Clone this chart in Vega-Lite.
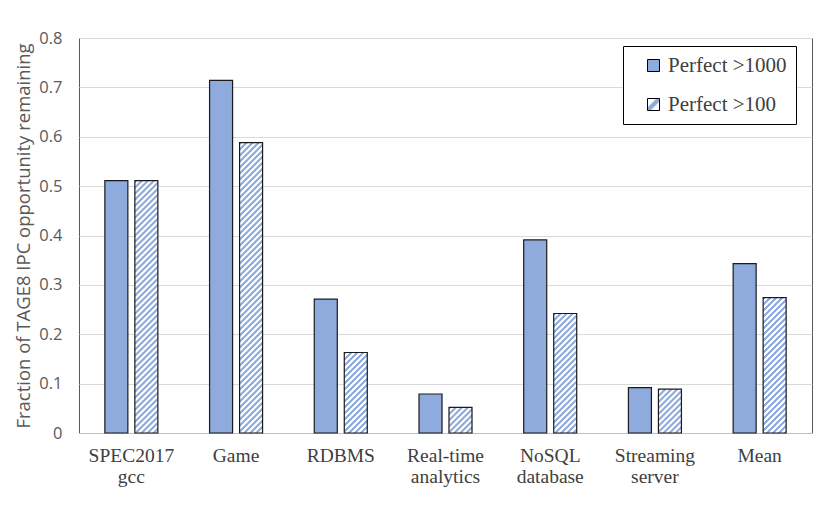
{
  "$schema": "https://vega.github.io/schema/vega-lite/v6.json",
  "width": 733,
  "height": 395,
  "autosize": {"type": "none"},
  "padding": {"left": 79, "top": 38, "right": 18, "bottom": 85},
  "background": "white",
  "params": [
    {"name": "hatchStops", "value": [
      {"offset":0,"color":"#8faadc"},{"offset":0.0035,"color":"#8faadc"},{"offset":0.005,"color":"#fff"},{"offset":0.0085,"color":"#fff"},
      {"offset":0.01,"color":"#8faadc"},{"offset":0.0135,"color":"#8faadc"},{"offset":0.015,"color":"#fff"},{"offset":0.0185,"color":"#fff"},
      {"offset":0.02,"color":"#8faadc"},{"offset":0.0235,"color":"#8faadc"},{"offset":0.025,"color":"#fff"},{"offset":0.0285,"color":"#fff"},
      {"offset":0.03,"color":"#8faadc"},{"offset":0.0335,"color":"#8faadc"},{"offset":0.035,"color":"#fff"},{"offset":0.0385,"color":"#fff"},
      {"offset":0.04,"color":"#8faadc"},{"offset":0.0435,"color":"#8faadc"},{"offset":0.045,"color":"#fff"},{"offset":0.0485,"color":"#fff"},
      {"offset":0.05,"color":"#8faadc"},{"offset":0.0535,"color":"#8faadc"},{"offset":0.055,"color":"#fff"},{"offset":0.0585,"color":"#fff"},
      {"offset":0.06,"color":"#8faadc"},{"offset":0.0635,"color":"#8faadc"},{"offset":0.065,"color":"#fff"},{"offset":0.0685,"color":"#fff"},
      {"offset":0.07,"color":"#8faadc"},{"offset":0.0735,"color":"#8faadc"},{"offset":0.075,"color":"#fff"},{"offset":0.0785,"color":"#fff"},
      {"offset":0.08,"color":"#8faadc"},{"offset":0.0835,"color":"#8faadc"},{"offset":0.085,"color":"#fff"},{"offset":0.0885,"color":"#fff"},
      {"offset":0.09,"color":"#8faadc"},{"offset":0.0935,"color":"#8faadc"},{"offset":0.095,"color":"#fff"},{"offset":0.0985,"color":"#fff"},
      {"offset":0.1,"color":"#8faadc"},{"offset":0.1035,"color":"#8faadc"},{"offset":0.105,"color":"#fff"},{"offset":0.1085,"color":"#fff"},
      {"offset":0.11,"color":"#8faadc"},{"offset":0.1135,"color":"#8faadc"},{"offset":0.115,"color":"#fff"},{"offset":0.1185,"color":"#fff"},
      {"offset":0.12,"color":"#8faadc"},{"offset":0.1235,"color":"#8faadc"},{"offset":0.125,"color":"#fff"},{"offset":0.1285,"color":"#fff"},
      {"offset":0.13,"color":"#8faadc"},{"offset":0.1335,"color":"#8faadc"},{"offset":0.135,"color":"#fff"},{"offset":0.1385,"color":"#fff"},
      {"offset":0.14,"color":"#8faadc"},{"offset":0.1435,"color":"#8faadc"},{"offset":0.145,"color":"#fff"},{"offset":0.1485,"color":"#fff"},
      {"offset":0.15,"color":"#8faadc"},{"offset":0.1535,"color":"#8faadc"},{"offset":0.155,"color":"#fff"},{"offset":0.1585,"color":"#fff"},
      {"offset":0.16,"color":"#8faadc"},{"offset":0.1635,"color":"#8faadc"},{"offset":0.165,"color":"#fff"},{"offset":0.1685,"color":"#fff"},
      {"offset":0.17,"color":"#8faadc"},{"offset":0.1735,"color":"#8faadc"},{"offset":0.175,"color":"#fff"},{"offset":0.1785,"color":"#fff"},
      {"offset":0.18,"color":"#8faadc"},{"offset":0.1835,"color":"#8faadc"},{"offset":0.185,"color":"#fff"},{"offset":0.1885,"color":"#fff"},
      {"offset":0.19,"color":"#8faadc"},{"offset":0.1935,"color":"#8faadc"},{"offset":0.195,"color":"#fff"},{"offset":0.1985,"color":"#fff"},
      {"offset":0.2,"color":"#8faadc"},{"offset":0.2035,"color":"#8faadc"},{"offset":0.205,"color":"#fff"},{"offset":0.2085,"color":"#fff"},
      {"offset":0.21,"color":"#8faadc"},{"offset":0.2135,"color":"#8faadc"},{"offset":0.215,"color":"#fff"},{"offset":0.2185,"color":"#fff"},
      {"offset":0.22,"color":"#8faadc"},{"offset":0.2235,"color":"#8faadc"},{"offset":0.225,"color":"#fff"},{"offset":0.2285,"color":"#fff"},
      {"offset":0.23,"color":"#8faadc"},{"offset":0.2335,"color":"#8faadc"},{"offset":0.235,"color":"#fff"},{"offset":0.2385,"color":"#fff"},
      {"offset":0.24,"color":"#8faadc"},{"offset":0.2435,"color":"#8faadc"},{"offset":0.245,"color":"#fff"},{"offset":0.2485,"color":"#fff"},
      {"offset":0.25,"color":"#8faadc"},{"offset":0.2535,"color":"#8faadc"},{"offset":0.255,"color":"#fff"},{"offset":0.2585,"color":"#fff"},
      {"offset":0.26,"color":"#8faadc"},{"offset":0.2635,"color":"#8faadc"},{"offset":0.265,"color":"#fff"},{"offset":0.2685,"color":"#fff"},
      {"offset":0.27,"color":"#8faadc"},{"offset":0.2735,"color":"#8faadc"},{"offset":0.275,"color":"#fff"},{"offset":0.2785,"color":"#fff"},
      {"offset":0.28,"color":"#8faadc"},{"offset":0.2835,"color":"#8faadc"},{"offset":0.285,"color":"#fff"},{"offset":0.2885,"color":"#fff"},
      {"offset":0.29,"color":"#8faadc"},{"offset":0.2935,"color":"#8faadc"},{"offset":0.295,"color":"#fff"},{"offset":0.2985,"color":"#fff"},
      {"offset":0.3,"color":"#8faadc"},{"offset":0.3035,"color":"#8faadc"},{"offset":0.305,"color":"#fff"},{"offset":0.3085,"color":"#fff"},
      {"offset":0.31,"color":"#8faadc"},{"offset":0.3135,"color":"#8faadc"},{"offset":0.315,"color":"#fff"},{"offset":0.3185,"color":"#fff"},
      {"offset":0.32,"color":"#8faadc"},{"offset":0.3235,"color":"#8faadc"},{"offset":0.325,"color":"#fff"},{"offset":0.3285,"color":"#fff"},
      {"offset":0.33,"color":"#8faadc"},{"offset":0.3335,"color":"#8faadc"},{"offset":0.335,"color":"#fff"},{"offset":0.3385,"color":"#fff"},
      {"offset":0.34,"color":"#8faadc"},{"offset":0.3435,"color":"#8faadc"},{"offset":0.345,"color":"#fff"},{"offset":0.3485,"color":"#fff"},
      {"offset":0.35,"color":"#8faadc"},{"offset":0.3535,"color":"#8faadc"},{"offset":0.355,"color":"#fff"},{"offset":0.3585,"color":"#fff"},
      {"offset":0.36,"color":"#8faadc"},{"offset":0.3635,"color":"#8faadc"},{"offset":0.365,"color":"#fff"},{"offset":0.3685,"color":"#fff"},
      {"offset":0.37,"color":"#8faadc"},{"offset":0.3735,"color":"#8faadc"},{"offset":0.375,"color":"#fff"},{"offset":0.3785,"color":"#fff"},
      {"offset":0.38,"color":"#8faadc"},{"offset":0.3835,"color":"#8faadc"},{"offset":0.385,"color":"#fff"},{"offset":0.3885,"color":"#fff"},
      {"offset":0.39,"color":"#8faadc"},{"offset":0.3935,"color":"#8faadc"},{"offset":0.395,"color":"#fff"},{"offset":0.3985,"color":"#fff"},
      {"offset":0.4,"color":"#8faadc"},{"offset":0.4035,"color":"#8faadc"},{"offset":0.405,"color":"#fff"},{"offset":0.4085,"color":"#fff"},
      {"offset":0.41,"color":"#8faadc"},{"offset":0.4135,"color":"#8faadc"},{"offset":0.415,"color":"#fff"},{"offset":0.4185,"color":"#fff"},
      {"offset":0.42,"color":"#8faadc"},{"offset":0.4235,"color":"#8faadc"},{"offset":0.425,"color":"#fff"},{"offset":0.4285,"color":"#fff"},
      {"offset":0.43,"color":"#8faadc"},{"offset":0.4335,"color":"#8faadc"},{"offset":0.435,"color":"#fff"},{"offset":0.4385,"color":"#fff"},
      {"offset":0.44,"color":"#8faadc"},{"offset":0.4435,"color":"#8faadc"},{"offset":0.445,"color":"#fff"},{"offset":0.4485,"color":"#fff"},
      {"offset":0.45,"color":"#8faadc"},{"offset":0.4535,"color":"#8faadc"},{"offset":0.455,"color":"#fff"},{"offset":0.4585,"color":"#fff"},
      {"offset":0.46,"color":"#8faadc"},{"offset":0.4635,"color":"#8faadc"},{"offset":0.465,"color":"#fff"},{"offset":0.4685,"color":"#fff"},
      {"offset":0.47,"color":"#8faadc"},{"offset":0.4735,"color":"#8faadc"},{"offset":0.475,"color":"#fff"},{"offset":0.4785,"color":"#fff"},
      {"offset":0.48,"color":"#8faadc"},{"offset":0.4835,"color":"#8faadc"},{"offset":0.485,"color":"#fff"},{"offset":0.4885,"color":"#fff"},
      {"offset":0.49,"color":"#8faadc"},{"offset":0.4935,"color":"#8faadc"},{"offset":0.495,"color":"#fff"},{"offset":0.4985,"color":"#fff"},
      {"offset":0.5,"color":"#8faadc"},{"offset":0.5035,"color":"#8faadc"},{"offset":0.505,"color":"#fff"},{"offset":0.5085,"color":"#fff"},
      {"offset":0.51,"color":"#8faadc"},{"offset":0.5135,"color":"#8faadc"},{"offset":0.515,"color":"#fff"},{"offset":0.5185,"color":"#fff"},
      {"offset":0.52,"color":"#8faadc"},{"offset":0.5235,"color":"#8faadc"},{"offset":0.525,"color":"#fff"},{"offset":0.5285,"color":"#fff"},
      {"offset":0.53,"color":"#8faadc"},{"offset":0.5335,"color":"#8faadc"},{"offset":0.535,"color":"#fff"},{"offset":0.5385,"color":"#fff"},
      {"offset":0.54,"color":"#8faadc"},{"offset":0.5435,"color":"#8faadc"},{"offset":0.545,"color":"#fff"},{"offset":0.5485,"color":"#fff"},
      {"offset":0.55,"color":"#8faadc"},{"offset":0.5535,"color":"#8faadc"},{"offset":0.555,"color":"#fff"},{"offset":0.5585,"color":"#fff"},
      {"offset":0.56,"color":"#8faadc"},{"offset":0.5635,"color":"#8faadc"},{"offset":0.565,"color":"#fff"},{"offset":0.5685,"color":"#fff"},
      {"offset":0.57,"color":"#8faadc"},{"offset":0.5735,"color":"#8faadc"},{"offset":0.575,"color":"#fff"},{"offset":0.5785,"color":"#fff"},
      {"offset":0.58,"color":"#8faadc"},{"offset":0.5835,"color":"#8faadc"},{"offset":0.585,"color":"#fff"},{"offset":0.5885,"color":"#fff"},
      {"offset":0.59,"color":"#8faadc"},{"offset":0.5935,"color":"#8faadc"},{"offset":0.595,"color":"#fff"},{"offset":0.5985,"color":"#fff"},
      {"offset":0.6,"color":"#8faadc"},{"offset":0.6035,"color":"#8faadc"},{"offset":0.605,"color":"#fff"},{"offset":0.6085,"color":"#fff"},
      {"offset":0.61,"color":"#8faadc"},{"offset":0.6135,"color":"#8faadc"},{"offset":0.615,"color":"#fff"},{"offset":0.6185,"color":"#fff"},
      {"offset":0.62,"color":"#8faadc"},{"offset":0.6235,"color":"#8faadc"},{"offset":0.625,"color":"#fff"},{"offset":0.6285,"color":"#fff"},
      {"offset":0.63,"color":"#8faadc"},{"offset":0.6335,"color":"#8faadc"},{"offset":0.635,"color":"#fff"},{"offset":0.6385,"color":"#fff"},
      {"offset":0.64,"color":"#8faadc"},{"offset":0.6435,"color":"#8faadc"},{"offset":0.645,"color":"#fff"},{"offset":0.6485,"color":"#fff"},
      {"offset":0.65,"color":"#8faadc"},{"offset":0.6535,"color":"#8faadc"},{"offset":0.655,"color":"#fff"},{"offset":0.6585,"color":"#fff"},
      {"offset":0.66,"color":"#8faadc"},{"offset":0.6635,"color":"#8faadc"},{"offset":0.665,"color":"#fff"},{"offset":0.6685,"color":"#fff"},
      {"offset":0.67,"color":"#8faadc"},{"offset":0.6735,"color":"#8faadc"},{"offset":0.675,"color":"#fff"},{"offset":0.6785,"color":"#fff"},
      {"offset":0.68,"color":"#8faadc"},{"offset":0.6835,"color":"#8faadc"},{"offset":0.685,"color":"#fff"},{"offset":0.6885,"color":"#fff"},
      {"offset":0.69,"color":"#8faadc"},{"offset":0.6935,"color":"#8faadc"},{"offset":0.695,"color":"#fff"},{"offset":0.6985,"color":"#fff"},
      {"offset":0.7,"color":"#8faadc"},{"offset":0.7035,"color":"#8faadc"},{"offset":0.705,"color":"#fff"},{"offset":0.7085,"color":"#fff"},
      {"offset":0.71,"color":"#8faadc"},{"offset":0.7135,"color":"#8faadc"},{"offset":0.715,"color":"#fff"},{"offset":0.7185,"color":"#fff"},
      {"offset":0.72,"color":"#8faadc"},{"offset":0.7235,"color":"#8faadc"},{"offset":0.725,"color":"#fff"},{"offset":0.7285,"color":"#fff"},
      {"offset":0.73,"color":"#8faadc"},{"offset":0.7335,"color":"#8faadc"},{"offset":0.735,"color":"#fff"},{"offset":0.7385,"color":"#fff"},
      {"offset":0.74,"color":"#8faadc"},{"offset":0.7435,"color":"#8faadc"},{"offset":0.745,"color":"#fff"},{"offset":0.7485,"color":"#fff"},
      {"offset":0.75,"color":"#8faadc"},{"offset":0.7535,"color":"#8faadc"},{"offset":0.755,"color":"#fff"},{"offset":0.7585,"color":"#fff"},
      {"offset":0.76,"color":"#8faadc"},{"offset":0.7635,"color":"#8faadc"},{"offset":0.765,"color":"#fff"},{"offset":0.7685,"color":"#fff"},
      {"offset":0.77,"color":"#8faadc"},{"offset":0.7735,"color":"#8faadc"},{"offset":0.775,"color":"#fff"},{"offset":0.7785,"color":"#fff"},
      {"offset":0.78,"color":"#8faadc"},{"offset":0.7835,"color":"#8faadc"},{"offset":0.785,"color":"#fff"},{"offset":0.7885,"color":"#fff"},
      {"offset":0.79,"color":"#8faadc"},{"offset":0.7935,"color":"#8faadc"},{"offset":0.795,"color":"#fff"},{"offset":0.7985,"color":"#fff"},
      {"offset":0.8,"color":"#8faadc"},{"offset":0.8035,"color":"#8faadc"},{"offset":0.805,"color":"#fff"},{"offset":0.8085,"color":"#fff"},
      {"offset":0.81,"color":"#8faadc"},{"offset":0.8135,"color":"#8faadc"},{"offset":0.815,"color":"#fff"},{"offset":0.8185,"color":"#fff"},
      {"offset":0.82,"color":"#8faadc"},{"offset":0.8235,"color":"#8faadc"},{"offset":0.825,"color":"#fff"},{"offset":0.8285,"color":"#fff"},
      {"offset":0.83,"color":"#8faadc"},{"offset":0.8335,"color":"#8faadc"},{"offset":0.835,"color":"#fff"},{"offset":0.8385,"color":"#fff"},
      {"offset":0.84,"color":"#8faadc"},{"offset":0.8435,"color":"#8faadc"},{"offset":0.845,"color":"#fff"},{"offset":0.8485,"color":"#fff"},
      {"offset":0.85,"color":"#8faadc"},{"offset":0.8535,"color":"#8faadc"},{"offset":0.855,"color":"#fff"},{"offset":0.8585,"color":"#fff"},
      {"offset":0.86,"color":"#8faadc"},{"offset":0.8635,"color":"#8faadc"},{"offset":0.865,"color":"#fff"},{"offset":0.8685,"color":"#fff"},
      {"offset":0.87,"color":"#8faadc"},{"offset":0.8735,"color":"#8faadc"},{"offset":0.875,"color":"#fff"},{"offset":0.8785,"color":"#fff"},
      {"offset":0.88,"color":"#8faadc"},{"offset":0.8835,"color":"#8faadc"},{"offset":0.885,"color":"#fff"},{"offset":0.8885,"color":"#fff"},
      {"offset":0.89,"color":"#8faadc"},{"offset":0.8935,"color":"#8faadc"},{"offset":0.895,"color":"#fff"},{"offset":0.8985,"color":"#fff"},
      {"offset":0.9,"color":"#8faadc"},{"offset":0.9035,"color":"#8faadc"},{"offset":0.905,"color":"#fff"},{"offset":0.9085,"color":"#fff"},
      {"offset":0.91,"color":"#8faadc"},{"offset":0.9135,"color":"#8faadc"},{"offset":0.915,"color":"#fff"},{"offset":0.9185,"color":"#fff"},
      {"offset":0.92,"color":"#8faadc"},{"offset":0.9235,"color":"#8faadc"},{"offset":0.925,"color":"#fff"},{"offset":0.9285,"color":"#fff"},
      {"offset":0.93,"color":"#8faadc"},{"offset":0.9335,"color":"#8faadc"},{"offset":0.935,"color":"#fff"},{"offset":0.9385,"color":"#fff"},
      {"offset":0.94,"color":"#8faadc"},{"offset":0.9435,"color":"#8faadc"},{"offset":0.945,"color":"#fff"},{"offset":0.9485,"color":"#fff"},
      {"offset":0.95,"color":"#8faadc"},{"offset":0.9535,"color":"#8faadc"},{"offset":0.955,"color":"#fff"},{"offset":0.9585,"color":"#fff"},
      {"offset":0.96,"color":"#8faadc"},{"offset":0.9635,"color":"#8faadc"},{"offset":0.965,"color":"#fff"},{"offset":0.9685,"color":"#fff"},
      {"offset":0.97,"color":"#8faadc"},{"offset":0.9735,"color":"#8faadc"},{"offset":0.975,"color":"#fff"},{"offset":0.9785,"color":"#fff"},
      {"offset":0.98,"color":"#8faadc"},{"offset":0.9835,"color":"#8faadc"},{"offset":0.985,"color":"#fff"},{"offset":0.9885,"color":"#fff"},
      {"offset":0.99,"color":"#8faadc"},{"offset":0.9935,"color":"#8faadc"},{"offset":0.995,"color":"#fff"},{"offset":0.9985,"color":"#fff"},
      {"offset":1,"color":"#8faadc"}
    ]}
  ],
  "data": {
    "values": [
      {"c": "SPEC2017 gcc", "s": "Perfect >1000", "v": 0.511},
      {"c": "SPEC2017 gcc", "s": "Perfect >100", "v": 0.511},
      {"c": "Game", "s": "Perfect >1000", "v": 0.714},
      {"c": "Game", "s": "Perfect >100", "v": 0.588},
      {"c": "RDBMS", "s": "Perfect >1000", "v": 0.271},
      {"c": "RDBMS", "s": "Perfect >100", "v": 0.163},
      {"c": "Real-time analytics", "s": "Perfect >1000", "v": 0.079},
      {"c": "Real-time analytics", "s": "Perfect >100", "v": 0.052},
      {"c": "NoSQL database", "s": "Perfect >1000", "v": 0.391},
      {"c": "NoSQL database", "s": "Perfect >100", "v": 0.242},
      {"c": "Streaming server", "s": "Perfect >1000", "v": 0.092},
      {"c": "Streaming server", "s": "Perfect >100", "v": 0.089},
      {"c": "Mean", "s": "Perfect >1000", "v": 0.343},
      {"c": "Mean", "s": "Perfect >100", "v": 0.274}
    ]
  },
  "mark": {"type": "bar", "stroke": "#1a1a1a", "strokeWidth": 1.2},
  "encoding": {
    "x": {
      "field": "c",
      "type": "nominal",
      "sort": null,
      "scale": {"paddingInner": 0, "paddingOuter": 0},
      "axis": {
        "title": null,
        "labelAngle": 0,
        "labelExpr": "split(datum.label, ' ')",
        "labelFont": "Liberation Serif",
        "labelFontSize": 19.5,
        "labelColor": "#404040",
        "labelLineHeight": 21,
        "labelPadding": 13,
        "labelBaseline": "top",
        "ticks": false,
        "grid": false,
        "domainColor": "#bfbfbf",
        "domainWidth": 1
      }
    },
    "xOffset": {
      "field": "s",
      "type": "nominal",
      "sort": ["Perfect >1000", "Perfect >100"],
      "scale": {"paddingInner": 0.233, "paddingOuter": 0.862}
    },
    "y": {
      "field": "v",
      "type": "quantitative",
      "stack": null,
      "scale": {"domain": [0, 0.8], "nice": false},
      "axis": {
        "title": "Fraction of TAGE8 IPC opportunity remaining",
        "titleFont": "Open Sans",
        "titleFontSize": 18.5,
        "titleFontWeight": "normal",
        "titleColor": "#595959",
        "titlePadding": 5,
        "values": [0, 0.1, 0.2, 0.3, 0.4, 0.5, 0.6, 0.7, 0.8],
        "format": ".1~f",
        "labelFont": "Open Sans",
        "labelFontSize": 16.5,
        "labelColor": "#595959",
        "labelPadding": 17,
        "ticks": false,
        "domain": false,
        "grid": true,
        "gridColor": "#d9d9d9",
        "gridWidth": 1
      }
    },
    "fill": {
      "field": "s",
      "type": "nominal",
      "scale": {
        "domain": ["Perfect >1000", "Perfect >100"],
        "range": [
          "#8faadc",
          {"expr": "{gradient: 'linear', x1: 0, y1: 0, x2: 1, y2: 1, stops: [{offset: 0, color: '#fff'}, {offset: 0.33, color: '#fff'}, {offset: 0.42, color: '#8faadc'}, {offset: 0.58, color: '#8faadc'}, {offset: 0.67, color: '#fff'}, {offset: 1, color: '#fff'}]}"}
        ]
      },
      "condition": {
        "test": "datum.s === 'Perfect >100'",
        "value": {"expr": "{gradient: 'linear', x1: 0, y1: 0, x2: 600 * bandwidth('xOffset') / (pow(bandwidth('xOffset'), 2) + pow(scale('y', 0) - scale('y', datum.v), 2)), y2: 600 * (scale('y', 0) - scale('y', datum.v)) / (pow(bandwidth('xOffset'), 2) + pow(scale('y', 0) - scale('y', datum.v), 2)), stops: hatchStops}"}
      },
      "legend": {
        "title": null,
        "orient": "none",
        "legendX": 544,
        "legendY": 8,
        "padding": 9,
        "symbolOffset": 11,
        "strokeColor": "#000000",
        "fillColor": "#ffffff",
        "symbolType": "square",
        "symbolSize": 144,
        "symbolStrokeColor": "#000000",
        "symbolStrokeWidth": 1,
        "labelFont": "Liberation Serif",
        "labelFontSize": 21,
        "labelColor": "#404040",
        "labelOffset": 4,
        "labelExpr": "datum.label + '\u2002'",
        "rowPadding": 17
      }
    }
  },
  "config": {
    "view": {"stroke": "#595959", "strokeWidth": 1}
  }
}
